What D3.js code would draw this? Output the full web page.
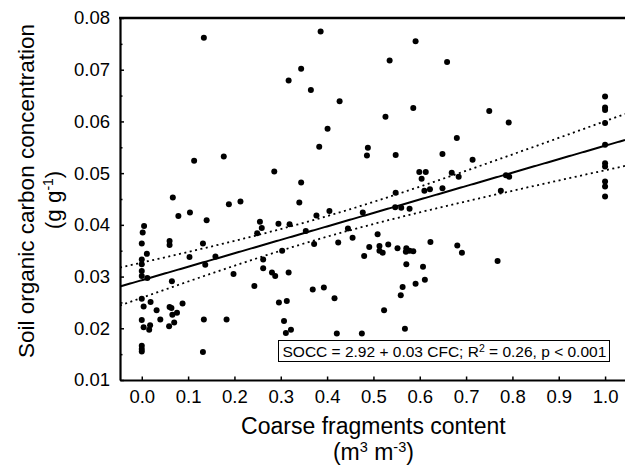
<!DOCTYPE html>
<html>
<head>
<meta charset="utf-8">
<script src="https://cdn.jsdelivr.net/npm/d3@7"></script>
<style>
  html, body { margin: 0; padding: 0; background: #fff; }
  svg { display: block; font-family: "Liberation Sans", Arial, sans-serif; }
</style>
</head>
<body>
<svg id="chart" width="625" height="465"></svg>
<script>
// ---- data ----
const cfc = [
  0.134, 0.344, 0.317, 0.113, 0.177, 0.286, 0.344, 0.067, 0.213, 0.386,
  0.591, 0.535, 0.659, 0.365, 0.427, 0.586, 0.526, 0.401, 0.680, 0.383,
  0.488, 0.486, 0.548, 0.649, 0.599, 0.613, 0.604, 0.669, 0.684, 0.610,
  0.622, 0.649, 0.548, 1.0, 1.0, 1.0, 1.0, 0.750, 0.792, 0.714,
  0.786, 0.793, 1.0, 1.0, 1.0, 1.0, 1.0, 1.0, 0.775, 0.188,
  0.340, 0.079, 0.104, 0.140, 0.005, 0.002, 0.0, 0.060, 0.060, 0.011,
  0.132, 0.0, 0.0, 0.0, 0.0, 0.012, 0.103, 0.137, 0.159, 0.255,
  0.259, 0.249, 0.295, 0.319, 0.262, 0.262, 0.281, 0.288, 0.303, 0.317,
  0.198, 0.243, 0.065, 0.0, 0.004, 0.019, 0.032, 0.060, 0.064, 0.088,
  0.076, 0.066, 0.040, 0.0, 0.004, 0.016, 0.018, 0.059, 0.070, 0.134,
  0.183, 0.296, 0.313, 0.307, 0.311, 0.322, 0.0, 0.0, 0.0, 0.132,
  0.377, 0.405, 0.477, 0.547, 0.560, 0.578, 0.354, 0.445, 0.455, 0.372,
  0.424, 0.509, 0.491, 0.480, 0.513, 0.513, 0.520, 0.532, 0.552, 0.571,
  0.570, 0.578, 0.586, 0.623, 0.681, 0.571, 0.607, 0.369, 0.393, 0.416,
  0.563, 0.559, 0.591, 0.611, 0.523, 0.421, 0.475, 0.568, 0.691, 0.768
];
const socc = [
  0.0762, 0.0702, 0.0679, 0.0524, 0.0532, 0.0503, 0.0482, 0.0453, 0.0445, 0.0774,
  0.0755, 0.0718, 0.0715, 0.0661, 0.0639, 0.0626, 0.0609, 0.0586, 0.0568, 0.0551,
  0.0549, 0.0534, 0.0535, 0.0537, 0.0502, 0.0502, 0.0489, 0.0501, 0.0493, 0.0466,
  0.0469, 0.0471, 0.0462, 0.0648, 0.0627, 0.0622, 0.0597, 0.0620, 0.0598, 0.0526,
  0.0496, 0.0493, 0.0555, 0.0519, 0.0513, 0.0484, 0.0474, 0.0455, 0.0466, 0.0440,
  0.0443, 0.0417, 0.0424, 0.0409, 0.0398, 0.0385, 0.0364, 0.0369, 0.0361, 0.0344,
  0.0364, 0.0333, 0.0324, 0.0311, 0.0301, 0.0297, 0.0338, 0.0323, 0.0339, 0.0406,
  0.0394, 0.0384, 0.0402, 0.0401, 0.0333, 0.0316, 0.0308, 0.0301, 0.0350, 0.0308,
  0.0305, 0.0282, 0.0291, 0.0257, 0.0242, 0.0251, 0.0235, 0.0241, 0.0239, 0.0248,
  0.0230, 0.0226, 0.0217, 0.0216, 0.0202, 0.0197, 0.0206, 0.0204, 0.0211, 0.0217,
  0.0217, 0.0250, 0.0253, 0.0214, 0.0191, 0.0197, 0.0166, 0.0160, 0.0155, 0.0154,
  0.0418, 0.0427, 0.0424, 0.0434, 0.0433, 0.0431, 0.0388, 0.0393, 0.0375, 0.0363,
  0.0366, 0.0382, 0.0357, 0.0340, 0.0359, 0.0350, 0.0346, 0.0362, 0.0355, 0.0355,
  0.0348, 0.0350, 0.0349, 0.0367, 0.0360, 0.0324, 0.0319, 0.0275, 0.0279, 0.0258,
  0.0280, 0.0264, 0.0286, 0.0294, 0.0235, 0.0190, 0.0190, 0.0199, 0.0346, 0.0330
];
const xTicks = [0, 0.1, 0.2, 0.3, 0.4, 0.5, 0.6, 0.7, 0.8, 0.9, 1.0];
const xTickLabels = ["0.0","0.1","0.2","0.3","0.4","0.5","0.6","0.7","0.8","0.9","1.0"];
const yTicks = [0.01, 0.02, 0.03, 0.04, 0.05, 0.06, 0.07, 0.08];
const yTickLabels = ["0.01","0.02","0.03","0.04","0.05","0.06","0.07","0.08"];
const yMinorTicks = [0.015, 0.025, 0.035, 0.045, 0.055, 0.065, 0.075];
// fitted line
const fitIntercept = 0.0293;
const fitSlope = 0.0260;
const tCrit = 1.976;
const equationText = ["SOCC = 2.92 + 0.03 CFC; R", "2", " = 0.26, p < 0.001"];

// ---- layout ----
const svg = d3.select("#chart");
const pLeft = 120, pRight = 625, pTop = 18, pBottom = 380;
const x = d3.scaleLinear().domain([-0.047, 1.043]).range([pLeft, pRight]);
const y = d3.scaleLinear().domain([0.01, 0.08]).range([pBottom, pTop]);

// confidence band from data statistics
const n = cfc.length;
const xbar = d3.mean(cfc);
const sxx = d3.sum(cfc, v => (v - xbar) ** 2);
const resid = cfc.map((v, i) => socc[i] - (fitIntercept + fitSlope * v));
const sRes = Math.sqrt(d3.sum(resid, r => r * r) / (n - 2));
const hw = v => tCrit * sRes * Math.sqrt(1 / n + (v - xbar) ** 2 / sxx);

const xs = d3.range(0, 201).map(i => x.domain()[0] + (x.domain()[1] - x.domain()[0]) * i / 200);
const lineGen = d3.line().x(d => x(d[0])).y(d => y(d[1]));

svg.append("clipPath").attr("id", "clip")
  .append("rect").attr("x", pLeft).attr("y", pTop).attr("width", pRight - pLeft).attr("height", pBottom - pTop);

const g = svg.append("g").attr("clip-path", "url(#clip)");

// points
g.selectAll("circle").data(cfc.map((v, i) => [v, socc[i]])).join("circle")
  .attr("cx", d => x(d[0])).attr("cy", d => y(d[1])).attr("r", 3).attr("fill", "#000");

// fit line
g.append("path").datum(xs.map(v => [v, fitIntercept + fitSlope * v]))
  .attr("d", lineGen).attr("fill", "none").attr("stroke", "#000").attr("stroke-width", 2);
// confidence bands
[1, -1].forEach(sg => {
  g.append("path").datum(xs.map(v => [v, fitIntercept + fitSlope * v + sg * hw(v)]))
    .attr("d", lineGen).attr("fill", "none").attr("stroke", "#000")
    .attr("stroke-width", 1.8).attr("stroke-dasharray", "2,3.5");
});

// axes
const yAxis = d3.axisLeft(y).tickValues(yTicks).tickFormat((d, i) => yTickLabels[i])
  .tickSize(-4).tickSizeOuter(0).tickPadding(10);
const yg = svg.append("g").attr("transform", `translate(${pLeft},0)`).call(yAxis);
const yMinor = d3.axisLeft(y).tickValues(yMinorTicks).tickFormat("").tickSize(-2.5).tickSizeOuter(0);
const ymg = svg.append("g").attr("transform", `translate(${pLeft},0)`).call(yMinor);
ymg.select(".domain").remove();

const xAxis = d3.axisBottom(x).tickValues(xTicks).tickFormat((d, i) => xTickLabels[i])
  .tickSize(-3.5).tickSizeOuter(0).tickPadding(10);
const xg = svg.append("g").attr("transform", `translate(0,${pBottom})`).call(xAxis);

[yg, ymg, xg].forEach(a => {
  a.selectAll(".domain").attr("stroke", "#000").attr("stroke-width", 2.2);
  a.selectAll(".tick line").attr("stroke", "#000").attr("stroke-width", 1.5);
  a.selectAll(".tick text").attr("fill", "#000").style("font-size", "18.5px")
    .style("font-family", '"Liberation Sans", Arial, sans-serif');
});

// top frame line
svg.append("line").attr("x1", pLeft - 1).attr("x2", pRight).attr("y1", pTop).attr("y2", pTop)
  .attr("stroke", "#000").attr("stroke-width", 2.5);

// equation box
const eqG = svg.append("g");
eqG.append("rect").attr("x", 278.5).attr("y", 340.5).attr("width", 331).attr("height", 21)
  .attr("fill", "#fff").attr("stroke", "#000").attr("stroke-width", 1);
const eqT = eqG.append("text").attr("x", 282.5).attr("y", 357).style("font-size", "15.5px").attr("fill", "#000");
eqT.append("tspan").text(equationText[0]);
eqT.append("tspan").attr("dy", -5.5).style("font-size", "10.5px").text(equationText[1]);
eqT.append("tspan").attr("dy", 5.5).text(equationText[2]);

// axis titles
const yt = svg.append("g").attr("transform", "translate(34,191) rotate(-90)");
yt.append("text").attr("text-anchor", "middle").attr("x", 0).attr("y", 0)
  .style("font-size", "22.5px").text("Soil organic carbon concentration");
const yt2 = svg.append("g").attr("transform", "translate(61,200) rotate(-90)");
const yt2t = yt2.append("text").attr("text-anchor", "middle").style("font-size", "22.5px");
yt2t.append("tspan").text("(g g");
yt2t.append("tspan").attr("dy", -8).style("font-size", "14px").text("-1");
yt2t.append("tspan").attr("dy", 8).text(")");

svg.append("text").attr("x", x(0.5)).attr("y", 434).attr("text-anchor", "middle")
  .style("font-size", "23px").text("Coarse fragments content");
const xt2 = svg.append("text").attr("x", x(0.5)).attr("y", 460).attr("text-anchor", "middle")
  .style("font-size", "23px");
xt2.append("tspan").text("(m");
xt2.append("tspan").attr("dy", -8).style("font-size", "14.5px").text("3");
xt2.append("tspan").attr("dy", 8).text(" m");
xt2.append("tspan").attr("dy", -8).style("font-size", "14.5px").text("-3");
xt2.append("tspan").attr("dy", 8).text(")");
</script>
</body>
</html>
